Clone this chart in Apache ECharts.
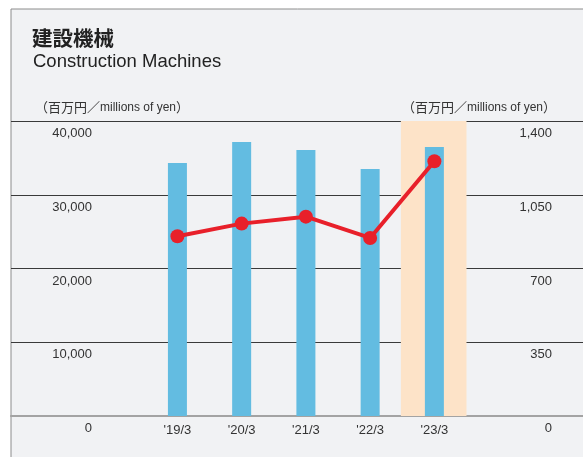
<!DOCTYPE html>
<html>
<head>
<meta charset="utf-8">
<script src="https://cdn.jsdelivr.net/npm/echarts@6/dist/echarts.min.js"></script>
<style>
    body{ margin:0; background:#fff; }
    #chart{ width:583px; height:457px; }
</style>
</head>
<body>
<div id="chart"></div>
<script>
    // 年度
    var categories = ["'19/3", "'20/3", "'21/3", "'22/3", "'23/3"];
    // 売上（棒, 左軸）
    var barValues = [34300, 37150, 36070, 33490, 36480];
    // 利益（折れ線, 右軸）
    var lineValues = [853, 913, 946, 845, 1209];
    // 強調する年度
    var highlight = [null, null, null, null, 40000];
    var leftTicks = [0, 10000, 20000, 30000, 40000];
    var rightTicks = [0, 350, 700, 1050, 1400];

    var FONT = '"Liberation Sans Narrow", "Liberation Sans", "Noto Sans CJK JP", sans-serif';
    var fmt = function (v) { return v.toLocaleString('en-US'); };
    // 単位ラベル
    var unitText = '{j|（百万円／}{e|millions of yen}{j|）}';
    var unitRich = {
        j: { fontSize: 13, fontWeight: 'normal', color: '#333', fontFamily: '"Noto Sans CJK JP", sans-serif' },
        e: { fontSize: 12, fontWeight: 'normal', color: '#333', fontFamily: FONT }
    };

    var myChart = echarts.init(document.getElementById('chart'));
    myChart.setOption({
        animation: false,
        backgroundColor: 'transparent',
        textStyle: { fontFamily: FONT },
        //外枠
        graphic: [{
            type: 'rect',
            z: -10,
            shape: { x: 11, y: 9, width: 600, height: 500 },
            style: { fill: '#f1f2f4', stroke: '#8c8c8c', lineWidth: 1 }
        }],
        title: [
            { text: '建設機械', left: 27, top: 23,
              textStyle: { fontSize: 20.5, fontWeight: 'bold', color: '#222', fontFamily: '"Noto Sans CJK JP", sans-serif' } },
            { text: 'Construction Machines', left: 28, top: 48,
              textStyle: { fontSize: 18.5, fontWeight: 'normal', color: '#222', fontFamily: FONT } },
            { text: unitText, left: 30, top: 96,
              textStyle: { fontWeight: 'normal', rich: unitRich } },
            { text: unitText, right: 22, top: 96,
              textStyle: { fontWeight: 'normal', rich: unitRich } }
        ],
        grid: [
            { left: 11, right: 0, top: 121, bottom: 41 },
            { left: 145.3, width: 321.2, top: 121, bottom: 41 }
        ],
        xAxis: [
            { type: 'value', gridIndex: 0, min: 0, max: 1, show: true,
              axisLabel: { show: false }, axisTick: { show: false }, splitLine: { show: false },
              axisLine: { show: true, onZero: false, lineStyle: { color: '#a3a3a3', width: 2 } } },
            { type: 'category', gridIndex: 1, data: categories,
              axisLine: { show: false }, axisTick: { show: false },
              axisLabel: { margin: 8, fontSize: 13, color: '#333', fontFamily: FONT } },
            { type: 'category', gridIndex: 1, data: categories, show: false }
        ],
        yAxis: [
            { type: 'value', gridIndex: 0, position: 'left', min: 0, max: 40000, interval: 10000,
              axisLine: { show: false }, axisTick: { show: false },
              axisLabel: { margin: -81, align: 'right', verticalAlign: 'top', padding: [6, 0, 0, 0],
                           fontSize: 13, color: '#333', formatter: fmt,
                           customValues: leftTicks },
              splitLine: { show: true, showMinLine: false, lineStyle: { color: '#3a3a3a', width: 1 } } },
            { type: 'value', gridIndex: 0, position: 'right', min: 0, max: 1400, interval: 350,
              axisLine: { show: false }, axisTick: { show: false },
              axisLabel: { margin: -31, align: 'right', verticalAlign: 'top', padding: [6, 0, 0, 0],
                           fontSize: 13, color: '#333', formatter: fmt,
                           customValues: rightTicks },
              splitLine: { show: false } },
            { type: 'value', gridIndex: 1, min: 0, max: 40000, show: false },
            { type: 'value', gridIndex: 1, min: 0, max: 1400, show: false }
        ],
        series: [
            {
                name: 'highlight', type: 'bar', xAxisIndex: 2, yAxisIndex: 2,
                barWidth: 67, z: 0, silent: true,
                itemStyle: { color: '#fde3c8' },
                data: highlight
            },
            {
                name: '売上高', type: 'bar', xAxisIndex: 1, yAxisIndex: 2,
                barWidth: 19, z: 2,
                itemStyle: { color: '#63bce1' },
                data: barValues
            },
            {
                name: '利益', type: 'line', xAxisIndex: 1, yAxisIndex: 3,
                symbol: 'circle', symbolSize: 14, z: 5,
                lineStyle: { color: '#e8202a', width: 4 },
                itemStyle: { color: '#e8202a' },
                data: lineValues
            }
        ]
    });
</script>
</body>
</html>
